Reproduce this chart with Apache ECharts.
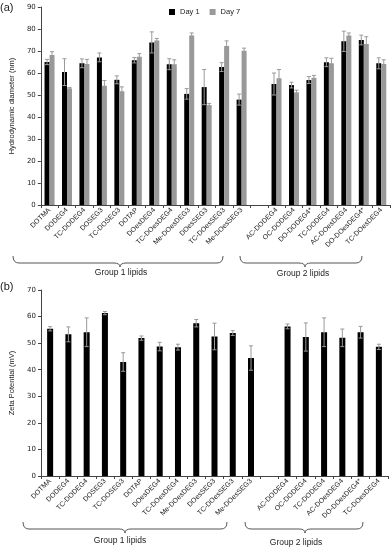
<!DOCTYPE html>
<html>
<head>
<meta charset="utf-8">
<script src="https://cdn.jsdelivr.net/npm/echarts@6/dist/echarts.min.js"></script>
<style>
  html, body { margin: 0; padding: 0; background: #fff; }
  #chart { width: 392px; height: 553px; }
</style>
</head>
<body>
<div id="chart"></div>
<script>
// panel (a): hydrodynamic diameter
var catsA = ['DOTMA', 'DODEG4', 'TC-DODEG4', 'DOSEG3', 'TC-DOSEG3', 'DOTAP', 'DOesDEG4', 'TC-DOesDEG4',
  'Me-DOesDEG3', 'DOesSEG3', 'TC-DOesSEG3', 'Me-DOesSEG3', '',
  'AC-DODEG4', 'OC-DODEG4', 'DO-DODEG4*', 'TC-DODEG4', 'AC-DOesDEG4', 'DO-DOesDEG4*', 'TC-DOesDEG4'];
var day1 = [65, 60.4, 64.4, 67.1, 56.9, 65.8, 73.9, 64, 50.5, 53.6, 62.7, 47.9, null,
  55, 54.5, 56.8, 64.9, 74.4, 75, 64.4];
var day1Err = [1.2, 6.1, 2, 2, 1.8, 1.2, 4.8, 2.5, 2.4, 8, 2, 2.5, null,
  5, 1.3, 1.6, 2, 4.6, 2.2, 2.5];
var day7 = [68.2, 53, 64.1, 54.2, 51.7, 67.4, 74.8, 64, 77, 45.4, 72.3, 70.1, null,
  57.6, 51.2, 57.8, 64.4, 77.1, 73.2, 64.1];
var day7Err = [1.5, 0.4, 2.1, 2.4, 2, 1.4, 0.9, 2, 1.2, 0.8, 2.3, 1.2, null,
  4, 1, 1.1, 2.3, 1.1, 3.3, 1.9];
var ticksA = [0, 10, 20, 30, 40, 50, 60, 70, 80, 90];

// panel (b): zeta potential
var catsB = ['DOTMA', 'DODEG4', 'TC-DODEG4', 'DOSEG3', 'TC-DOSEG3', 'DOTAP', 'DOesDEG4', 'TC-DOesDEG4',
  'Me-DOesDEG3', 'DOesSEG3', 'TC-DOesSEG3', 'Me-DOesSEG3', '',
  'AC-DODEG4', 'OC-DODEG4', 'TC-DODEG4', 'AC-DOesDEG4', 'DO-DOesDEG4*', 'TC-DOesDEG4'];
var zeta = [55.4, 53.3, 54.1, 61.3, 42.9, 51.9, 48.7, 48.5, 57.5, 52.5, 53.8, 44.4, null,
  56.3, 52.3, 54.1, 52, 54.1, 48.6];
var zetaErr = [0.8, 2.8, 5.4, 0.6, 3.5, 0.8, 1.6, 1.1, 1.4, 5, 0.9, 4.6, null,
  0.9, 5.3, 5.4, 3.3, 2.2, 1];
var ticksB = [0, 10, 20, 30, 40, 50, 60, 70];

var FONT = 'Liberation Sans';
var chart = echarts.init(document.getElementById('chart'));

function errData(vals, errs) {
  var out = [];
  vals.forEach(function (v, i) {
    if (v != null) out.push([i, v, errs[i]]);
  });
  return out;
}

function errRender(offset) {
  return function (params, api) {
    var i = api.value(0), v = api.value(1), e = api.value(2);
    var hi = api.coord([i, v + e]);
    var lo = api.coord([i, v - e]);
    var x = hi[0] + offset;
    var st = { stroke: '#9a9a9a', lineWidth: 1 };
    return {
      type: 'group',
      children: [
        { type: 'line', shape: { x1: x, y1: hi[1], x2: x, y2: lo[1] }, style: st },
        { type: 'line', shape: { x1: x - 2, y1: hi[1], x2: x + 2, y2: hi[1] }, style: st },
        { type: 'line', shape: { x1: x - 2, y1: lo[1], x2: x + 2, y2: lo[1] }, style: st }
      ]
    };
  };
}

// curly brace under a group of categories, built from curves and lines
function braceEl(x1, x2, xm, y0) {
  var y1 = y0 + 7, y2 = y0 + 11, r = 6;
  var st = { fill: null, stroke: '#555', lineWidth: 1 };
  function q(ax, ay, cx, cy, bx, by) {
    return { type: 'bezierCurve', shape: { x1: ax, y1: ay, x2: bx, y2: by, cpx1: cx, cpy1: cy }, style: st };
  }
  function l(ax, ay, bx, by) {
    return { type: 'line', shape: { x1: ax, y1: ay, x2: bx, y2: by }, style: st };
  }
  return {
    type: 'group',
    children: [
      q(x1, y0, x1, y1, x1 + r, y1),
      l(x1 + r, y1, xm - r, y1),
      q(xm - r, y1, xm, y1, xm, y2),
      q(xm, y2, xm, y1, xm + r, y1),
      l(xm + r, y1, x2 - r, y1),
      q(x2 - r, y1, x2, y1, x2, y0)
    ]
  };
}

function txt(x, y, s, size, align) {
  return {
    type: 'text', x: x, y: y,
    style: { text: s, fill: '#222', font: size + 'px "' + FONT + '"', align: align || 'center', verticalAlign: 'middle' }
  };
}

var axisLabelCat = { interval: 0, rotate: 45, fontSize: 7, color: '#222', fontFamily: FONT, margin: 4 };
var axisLineStyle = { lineStyle: { color: '#444', width: 1 } };

var option = {
  animation: false,
  textStyle: { fontFamily: FONT },
  legend: {
    data: ['Day 1', 'Day 7'],
    left: 164, top: 3,
    itemWidth: 6, itemHeight: 6, itemGap: 10,
    icon: 'rect',
    textStyle: { fontSize: 7.5, color: '#222', fontFamily: FONT }
  },
  grid: [
    { left: 31, top: 7, width: 359, height: 198 },
    { left: 38, top: 290, width: 350, height: 186 }
  ],
  xAxis: [
    {
      type: 'category', gridIndex: 0, data: catsA,
      axisLine: axisLineStyle, axisTick: { show: true, length: 3, lineStyle: { color: '#444' } },
      axisLabel: axisLabelCat
    },
    {
      type: 'category', gridIndex: 1, data: catsB,
      axisLine: axisLineStyle, axisTick: { show: true, length: 3, lineStyle: { color: '#444' } },
      axisLabel: axisLabelCat
    }
  ],
  yAxis: [
    {
      type: 'value', gridIndex: 0, min: ticksA[0], max: ticksA[ticksA.length - 1], interval: 10,
      name: 'Hydrodynamic diameter (nm)', nameLocation: 'middle', nameGap: 22,
      nameTextStyle: { fontSize: 7.5, color: '#222', fontFamily: FONT },
      axisLine: { show: true, lineStyle: { color: '#444' } },
      axisTick: { show: true, length: 3, lineStyle: { color: '#444' } },
      axisLabel: { fontSize: 7, color: '#222', margin: 5, fontFamily: 'DejaVu Sans' },
      splitLine: { show: false }
    },
    {
      type: 'value', gridIndex: 1, min: ticksB[0], max: ticksB[ticksB.length - 1], interval: 10,
      name: 'Zeta Potential (mV)', nameLocation: 'middle', nameGap: 25,
      nameTextStyle: { fontSize: 7.5, color: '#222', fontFamily: FONT },
      axisLine: { show: true, lineStyle: { color: '#444' } },
      axisTick: { show: true, length: 3, lineStyle: { color: '#444' } },
      axisLabel: { fontSize: 7, color: '#222', margin: 5, fontFamily: 'DejaVu Sans' },
      splitLine: { show: false }
    }
  ],
  series: [
    {
      name: 'Day 1', type: 'bar', xAxisIndex: 0, yAxisIndex: 0, data: day1,
      barWidth: 5, barGap: '0%', itemStyle: { color: '#000' }
    },
    {
      name: 'Day 7', type: 'bar', xAxisIndex: 0, yAxisIndex: 0, data: day7,
      barWidth: 5, barGap: '0%', itemStyle: { color: '#999' }
    },
    {
      name: 'err1', type: 'custom', xAxisIndex: 0, yAxisIndex: 0,
      data: errData(day1, day1Err), encode: { x: 0, y: 1 },
      renderItem: errRender(-2.5), z: 5
    },
    {
      name: 'err7', type: 'custom', xAxisIndex: 0, yAxisIndex: 0,
      data: errData(day7, day7Err), encode: { x: 0, y: 1 },
      renderItem: errRender(2.5), z: 5
    },
    {
      name: 'Zeta', type: 'bar', xAxisIndex: 1, yAxisIndex: 1, data: zeta,
      barWidth: 6, itemStyle: { color: '#000' }
    },
    {
      name: 'errZ', type: 'custom', xAxisIndex: 1, yAxisIndex: 1,
      data: errData(zeta, zetaErr), encode: { x: 0, y: 1 },
      renderItem: errRender(0), z: 5
    }
  ],
  graphic: [
    txt(0, 8, '(a)', 11, 'left'),
    txt(0, 287, '(b)', 11, 'left'),
    braceEl(13, 223, 120, 256),
    braceEl(240, 362, 305, 256),
    txt(121, 273, 'Group 1 lipids', 8.5),
    txt(303, 274, 'Group 2 lipids', 8.5),
    braceEl(23, 227, 125, 522),
    braceEl(245, 363, 305, 522),
    txt(120, 541, 'Group 1 lipids', 8.5),
    txt(296, 543, 'Group 2 lipids', 8.5)
  ]
};

chart.setOption(option);
window.addEventListener('resize', function () { chart.resize(); });
</script>
</body>
</html>
